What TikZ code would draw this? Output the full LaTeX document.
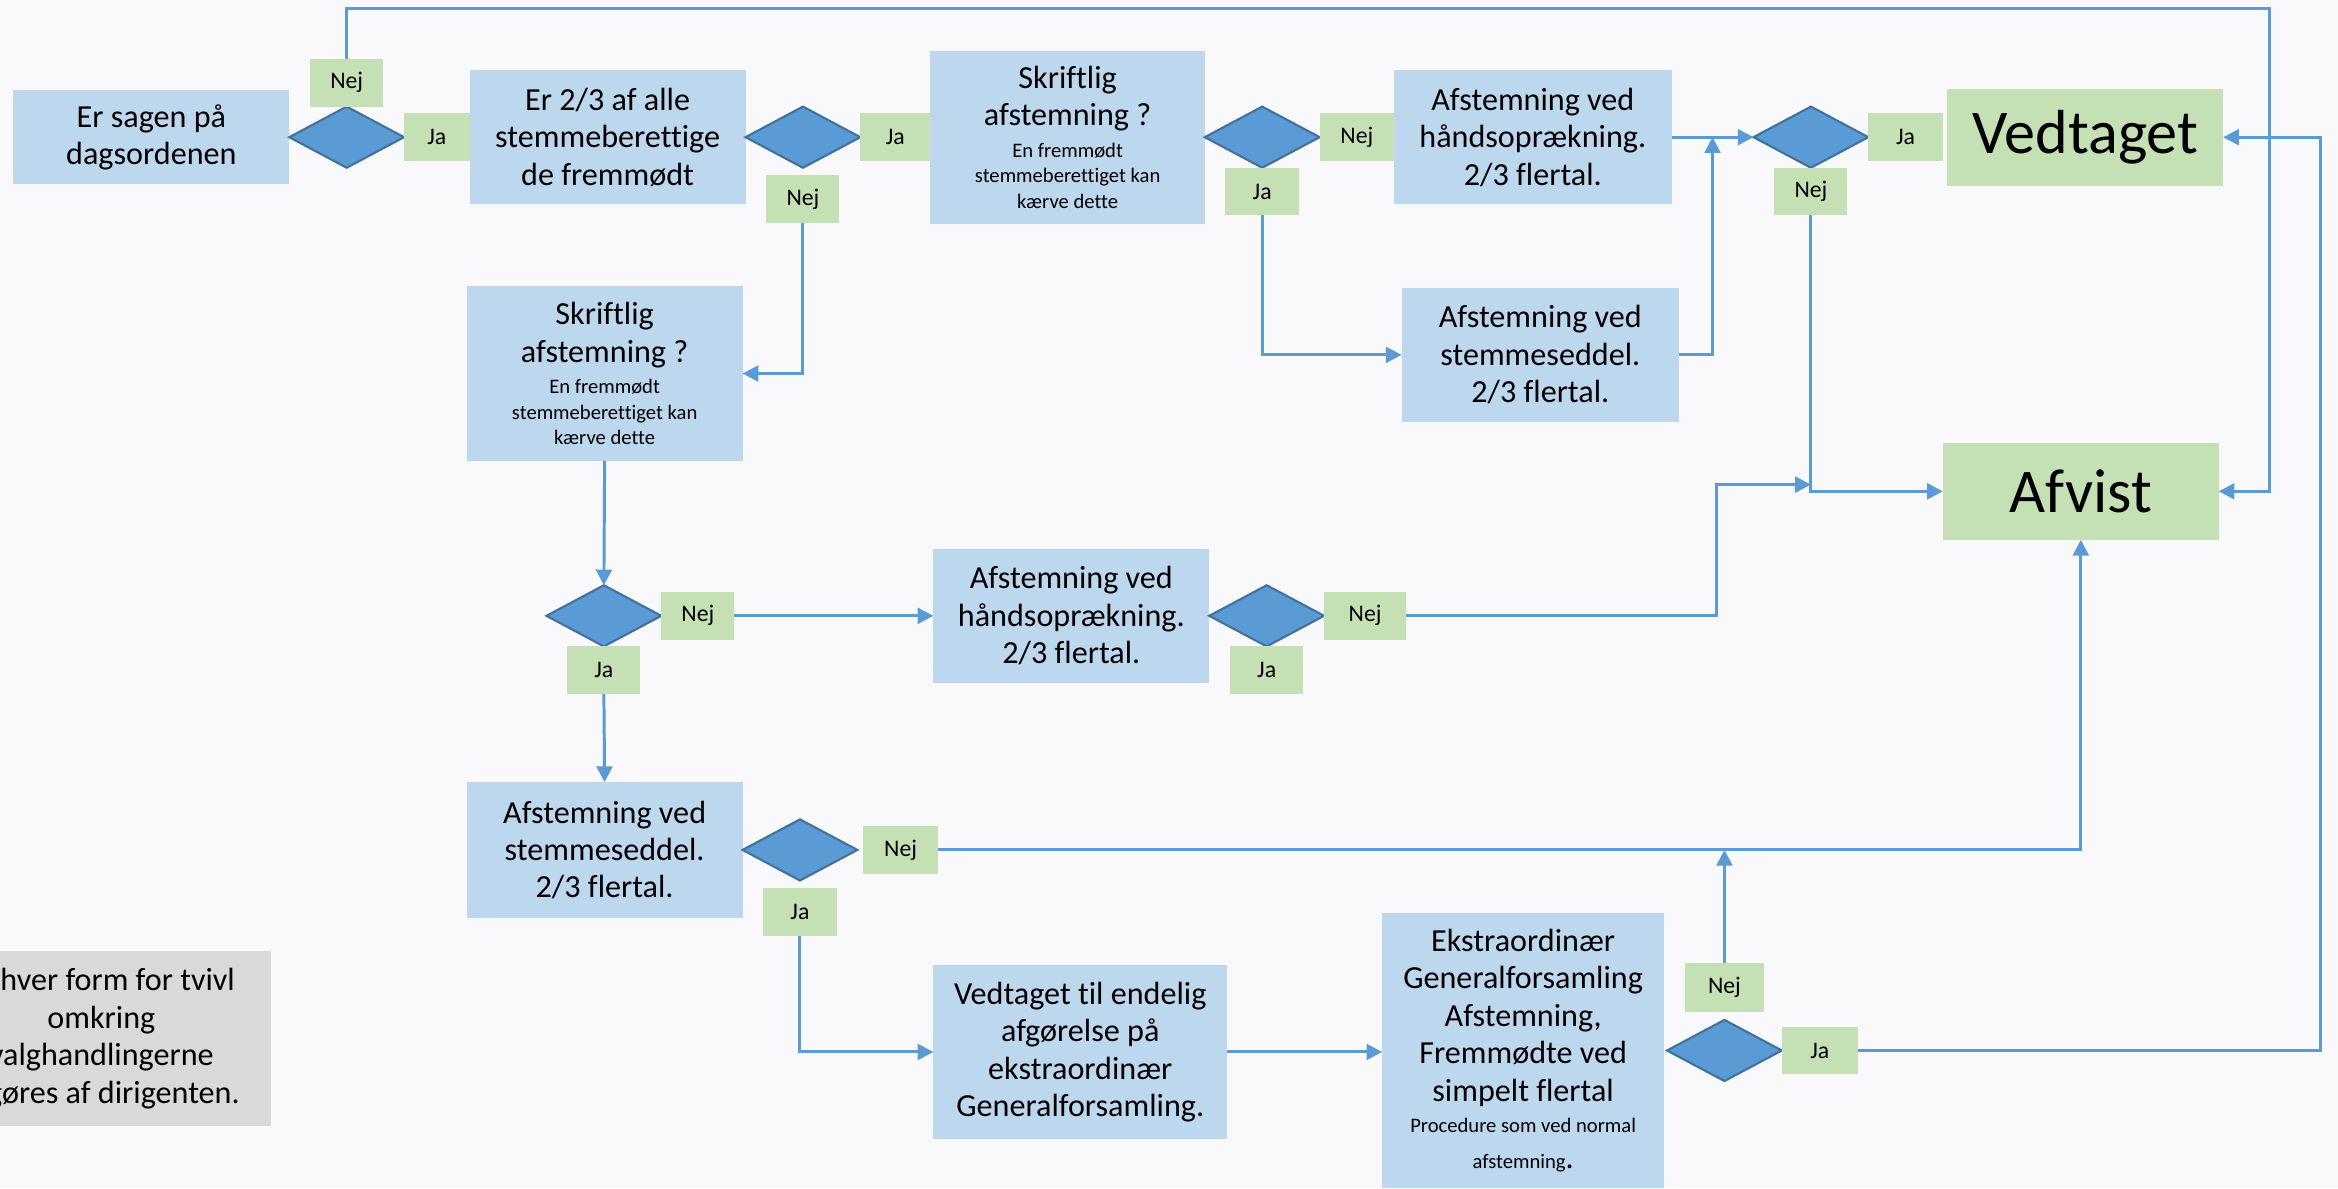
\documentclass[tikz,border=0pt]{standalone}
\usepackage{fontspec}
\setmainfont{Carlito}[Ligatures=CommonOff]
\usetikzlibrary{arrows.meta,positioning}
\usetikzlibrary{shapes.geometric, calc}

\definecolor{boxblue}{HTML}{BDD7EE}
\definecolor{diamondblue}{HTML}{5B9BD5}
\definecolor{diamondedge}{HTML}{41719C}
\definecolor{labelgreen}{HTML}{C5E0B4}
\definecolor{notegray}{HTML}{D9D9D9}
\definecolor{lineblue}{HTML}{5B9BD5}
\definecolor{pagebg}{HTML}{F9F9FC}

\newcommand{\pxu}{0.015cm}
\newcommand{\mainsize}{\fontsize{9.2}{10.7}\selectfont}
\newcommand{\smallsize}{\fontsize{5.9}{7.3}\selectfont}
\newcommand{\labelsize}{\fontsize{6.8}{8}\selectfont}
\newcommand{\bigsize}{\fontsize{17.8}{21}\selectfont}

\begin{document}
\begin{tikzpicture}[
    x=\pxu, y=-\pxu, % 以像素為單位
    font=\mainsize,
    node distance=0cm, % 節點間緊密排列
    outer sep=0pt,
    % --- 樣式定義 ---
    % 藍色步驟方塊
    blue box/.style={
        fill=boxblue,
        minimum width=185*\pxu,
        minimum height=90*\pxu,
        align=center,
        inner sep=2pt
    },
    % 判斷菱形
    decision/.style={
        diamond,
        draw=diamondedge,
        fill=diamondblue,
        line width=0.6pt,
        minimum width=77*\pxu,
        minimum height=41*\pxu,
        inner sep=0pt
    },
    % Ja / Nej 綠色標籤
    answer/.style={
        fill=labelgreen,
        minimum width=49*\pxu,
        minimum height=32*\pxu,
        inner sep=0pt,
        font=\labelsize
    },
    % 結果方塊
    result box/.style={
        fill=labelgreen,
        minimum width=185*\pxu,
        minimum height=65*\pxu,
        font=\bigsize
    },
    % 灰色註解
    note box/.style={
        fill=notegray,
        minimum width=228*\pxu,
        minimum height=117*\pxu,
        align=center
    },
    % 連接箭頭
    flow/.style={
        draw=lineblue,
        line width=0.85pt,
        -{Triangle[length=4.5pt, width=4.5pt]}
    }
]

    % 背景
    \path[fill=pagebg, use as bounding box] (0,0) rectangle (1568,797);

    % ====== 第一行 ======
    \node[blue box, minimum height=63*\pxu] (agenda) at (101.5,92) {Er sagen på\\dagsordenen};
    \node[decision, right=of agenda] (d agenda) {};
    \node[answer, above=of d agenda] (nej agenda) {Nej};
    \node[answer, minimum width=44*\pxu, right=of d agenda] (ja agenda) {Ja};

    \node[blue box, right=of ja agenda] (quorum) {Er 2/3 af alle\\stemmeberettige\\de fremmødt};
    \node[decision, right=of quorum] (d quorum) {};
    \node[answer, minimum width=47*\pxu, right=of d quorum] (ja quorum) {Ja};
    \node[answer, below=0.075cm of d quorum] (nej quorum) {Nej};

    \node[blue box, minimum width=184*\pxu, minimum height=116*\pxu, right=of ja quorum] (written top)
        {Skriftlig\\afstemning ?\\[-1.7pt]{\smallsize En fremmødt}\\[-3.45pt]{\smallsize stemmeberettiget kan}\\[-3.45pt]{\smallsize kærve dette}};
    \node[decision, right=of written top] (d written top) {};
    \node[answer, minimum width=50*\pxu, right=of d written top] (nej written top) {Nej};
    \node[answer, minimum width=50*\pxu, below=of d written top] (ja written top) {Ja};

    \node[blue box, minimum width=186*\pxu, right=of nej written top] (hands top) {Afstemning ved\\håndsoprækning.\\2/3 flertal.};
    \node[blue box, minimum width=186*\pxu] (ballot top) at (1033,238) {Afstemning ved\\stemmeseddel.\\2/3 flertal.};

    % 結果
    \node[decision] (d twothirds) at (1214.5,92) {};
    \node[answer, minimum width=50*\pxu, right=of d twothirds] (ja twothirds) {Ja};
    \node[answer, below=of d twothirds] (nej twothirds) {Nej};
    \node[result box, right=0.045cm of ja twothirds] (vedtaget) {Vedtaget};
    \node[result box] (afvist) at (1395.5,329.5) {Afvist};

    % ====== 第二行 ======
    \node[blue box, minimum height=117*\pxu] (written mid) at (405.5,250.5)
        {Skriftlig\\afstemning ?\\[-1.7pt]{\smallsize En fremmødt}\\[-3.45pt]{\smallsize stemmeberettiget kan}\\[-3.45pt]{\smallsize kærve dette}};
    \node[decision] (d written mid) at (405,413) {};
    \node[answer, right=of d written mid] (nej written mid) {Nej};
    \node[answer, below=of d written mid] (ja written mid) {Ja};

    \node[blue box] (hands mid) at (718.5,413) {Afstemning ved\\håndsoprækning.\\2/3 flertal.};
    \node[decision, right=of hands mid] (d hands mid) {};
    \node[answer, minimum width=55*\pxu, right=of d hands mid] (nej hands mid) {Nej};
    \node[answer, below=of d hands mid] (ja hands mid) {Ja};

    % ====== 第三行 ======
    \node[blue box, minimum height=91*\pxu] (ballot low) at (405.5,570) {Afstemning ved\\stemmeseddel.\\2/3 flertal.};
    \node[decision, right=of ballot low] (d ballot low) {};
    \node[answer, minimum width=50*\pxu, right=0.06cm of d ballot low] (nej ballot low) {Nej};
    \node[answer, below=0.075cm of d ballot low] (ja ballot low) {Ja};

    \node[blue box, minimum width=197*\pxu, minimum height=117*\pxu] (extra) at (724.5,705.5)
        {Vedtaget til endelig\\afgørelse på\\ekstraordinær\\Generalforsamling.};
    \node[blue box, minimum width=189*\pxu, minimum height=185*\pxu] (vote extra) at (1021.5,704.5)
        {Ekstraordinær\\Generalforsamling\\Afstemning,\\Fremmødte ved\\simpelt flertal\\[-1.7pt]{\smallsize Procedure som ved normal}\\[-0.5pt]{\smallsize afstemning}.};
    \node[decision, right=0.03cm of vote extra] (d vote extra) {};
    \node[answer, minimum width=51*\pxu, right=of d vote extra] (ja vote extra) {Ja};
    \node[answer, minimum width=53*\pxu, minimum height=33*\pxu, above=0.075cm of d vote extra] (nej vote extra) {Nej};

    % 註解
    \node[note box] (note) at (68,696.5) {Enhver form for tvivl\\omkring\\valghandlingerne\\afgøres af dirigenten.};

    % ====== 箭頭連接 ======
    \coordinate (top right) at (1522,6);
    \coordinate (far right) at (1556,92);
    \coordinate (join hands) at ($(hands top.east)!0.5!(d twothirds.west)$);
    \coordinate (join mid) at (1151,325);

    \draw[flow] (nej agenda.north) |- (top right) |- (afvist.east);
    \draw[flow] (nej quorum.south) |- (written mid.east);
    \draw[flow] (ja written top.south) |- (ballot top.west);
    \draw[flow] (hands top.east) -- (d twothirds.west);
    \draw[flow] (ballot top.east) -| (join hands);
    \draw[flow] (nej twothirds.south) |- (afvist.west);
    \draw[flow] (nej hands mid.east) -| (join mid) -- (join mid -| nej twothirds.south);
    \draw[flow] (written mid.south) -- (d written mid.north);
    \draw[flow] (nej written mid.east) -- (hands mid.west);
    \draw[flow] (ja written mid.south) -- (ballot low.north);
    \draw[flow] (nej ballot low.east) -| (afvist.south);
    \draw[flow] (ja ballot low.south) |- (extra.west);
    \draw[flow] (extra.east) -- (extra.east -| vote extra.west);
    \draw[flow] (nej vote extra.north) -- (nej vote extra.north |- nej ballot low.east);
    \draw[flow] (ja vote extra.east) -| (far right) -- (vedtaget.east);

\end{tikzpicture}
\end{document}
